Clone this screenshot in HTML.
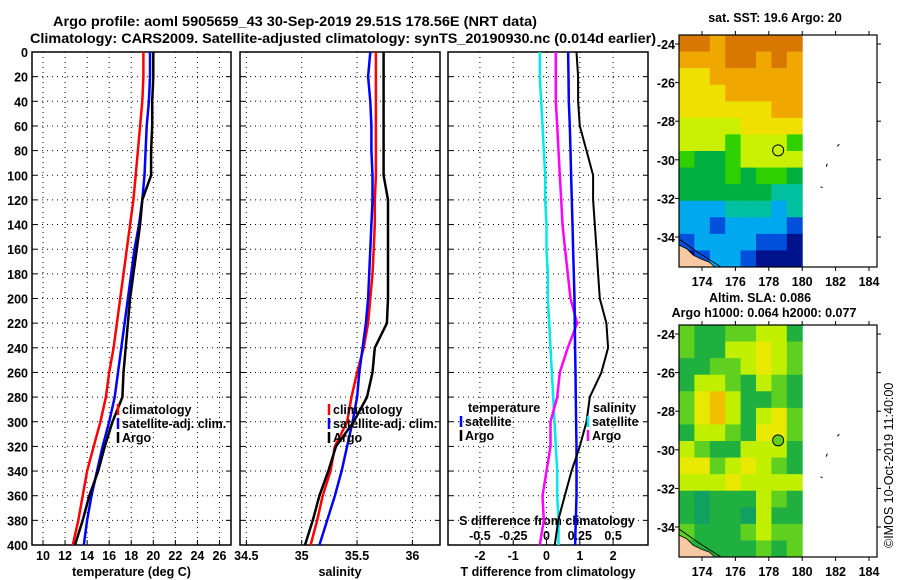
<!DOCTYPE html>
<html><head><meta charset="utf-8"><style>
html,body{margin:0;padding:0;background:#fff;}
svg{display:block;font-family:"Liberation Sans",sans-serif;font-weight:bold;}
</style></head><body>
<svg id="fig" width="900" height="580" viewBox="0 0 900 580" xmlns="http://www.w3.org/2000/svg">
<text x="53" y="26" font-size="13.5" textLength="484" lengthAdjust="spacingAndGlyphs">Argo profile: aoml 5905659_43 30-Sep-2019 29.51S 178.56E (NRT data)</text>
<text x="30" y="43" font-size="13.5" textLength="626" lengthAdjust="spacingAndGlyphs">Climatology: CARS2009. Satellite-adjusted climatology: synTS_20190930.nc (0.014d earlier)</text>
<text x="775" y="22" font-size="12.5" text-anchor="middle">sat. SST: 19.6 Argo: 20</text>
<text x="760" y="302" font-size="12.5" text-anchor="middle">Altim. SLA: 0.086</text>
<text x="764" y="317" font-size="12.5" text-anchor="middle">Argo h1000: 0.064 h2000: 0.077</text>
<text transform="translate(893,548) rotate(-90)" font-size="12.5" font-weight="normal">©IMOS 10-Oct-2019 11:40:00</text>
</svg>
<script>
// ---- data ----
const depths = [0,20,40,60,80,100,120,140,160,180,200,220,240,260,280,300,320,340,360,380,400];
const tempClim = [19.1,19.1,19.0,18.8,18.6,18.4,18.2,17.9,17.6,17.3,17.0,16.7,16.4,16.0,15.7,15.2,14.6,14.0,13.6,13.2,12.7];
const tempSat  = [19.7,19.7,19.6,19.4,19.3,19.2,19.0,18.7,18.3,18.0,17.7,17.4,17.1,16.8,16.5,16.0,15.4,14.9,14.4,14.0,13.7];
const tempArgo = [20.0,20.0,19.9,19.9,19.8,19.8,19.0,18.8,18.5,18.2,17.9,17.7,17.5,17.3,17.2,16.3,15.6,15.0,14.2,13.6,12.9];
const salClim = [35.67,35.67,35.67,35.67,35.67,35.67,35.66,35.66,35.65,35.64,35.62,35.60,35.56,35.50,35.45,35.41,35.30,35.26,35.19,35.14,35.08];
const salSat  = [35.62,35.60,35.62,35.63,35.63,35.64,35.64,35.63,35.62,35.61,35.60,35.58,35.55,35.52,35.50,35.46,35.41,35.36,35.30,35.23,35.16];
const salArgo = [35.74,35.74,35.74,35.74,35.74,35.74,35.78,35.78,35.78,35.78,35.78,35.77,35.66,35.64,35.59,35.47,35.31,35.24,35.16,35.10,35.03];
const tDiffSat  = [0.65,0.66,0.67,0.70,0.72,0.74,0.76,0.78,0.80,0.82,0.84,0.85,0.86,0.87,0.88,0.89,0.90,0.90,0.90,0.88,0.86];
const tDiffArgo = [0.9,0.95,0.95,1.0,1.2,1.4,1.4,1.45,1.5,1.55,1.6,1.8,1.85,1.65,1.3,1.2,1.0,0.75,0.55,0.35,0.25];
const sDiffSat  = [-0.05,-0.05,-0.04,-0.03,-0.02,-0.01,-0.01,0,0,0.01,0.01,0.02,0.03,0.04,0.05,0.06,0.07,0.08,0.08,0.09,0.09];
const sDiffArgo = [0.07,0.07,0.07,0.08,0.09,0.10,0.11,0.12,0.14,0.16,0.18,0.23,0.16,0.10,0.08,0.03,0.03,0.0,-0.03,-0.02,-0.05];
const depthTicks = [0,20,40,60,80,100,120,140,160,180,200,220,240,260,280,300,320,340,360,380,400];
const tempTicks = [10,12,14,16,18,20,22,24,26];
const salTicks = [34.5,35,35.5,36];
const salTickLabels = ['34.5','35','35.5','36'];
const tdTicks = [-2,-1,0,1,2];
const sdTicks = [-0.5,-0.25,0,0.25,0.5];
const sdTickLabels = ['-0.5','-0.25','0','0.25','0.5'];
const lonTicks = [174,176,178,180,182,184];
const latTicks = [-24,-26,-28,-30,-32,-34];
const sstGrid = [
[9,9,8,9,9,9,9,9],[8,8,8,9,9,8,9,8],[7,7,8,8,8,8,8,8],[7,7,7,8,8,8,8,8],
[7,7,7,7,7,7,8,8],[6,6,6,6,7,7,7,7],[6,6,6,5,6,6,6,5],[5,4,4,5,6,6,6,6],
[4,4,4,5,4,5,5,4],[4,4,4,4,4,4,3,3],[2,2,2,3,3,3,2,3],[2,2,1,2,2,2,2,1],
[1,2,2,2,2,1,1,0],[0,1,2,2,1,0,0,0]];
const slaGrid = [
[2,1,1,2,2,3,3,1],[2,1,1,3,3,4,3,2],[1,1,2,2,3,4,3,2],[1,3,3,2,1,3,2,1],
[2,4,5,3,1,1,2,1],[2,4,5,3,1,3,4,2],[1,3,3,2,1,4,4,2],[3,2,1,1,3,3,3,1],
[4,4,2,3,4,3,2,1],[3,3,3,4,3,3,3,3],[1,0,1,1,1,3,2,1],[1,0,1,1,0,3,1,1],
[2,1,1,1,2,3,2,2],[1,1,1,1,1,2,1,2]];
const argoLon = 178.56, argoLat = -29.51;

// ---- helpers ----
const NS='http://www.w3.org/2000/svg';
const svg=document.getElementById('fig');
function mk(tag,attrs,parent){const e=document.createElementNS(NS,tag);for(const k in attrs)e.setAttribute(k,attrs[k]);(parent||svg).appendChild(e);return e;}
const Y0=52,Y1=545;
const yD=d=>Y0+(d/400)*(Y1-Y0);

function panel(name,x0,x1,xs,ticks,labels,xlabel){
  const g=mk('g',{});
  
  
  mk('rect',{x:x0,y:Y0,width:x1-x0,height:Y1-Y0,fill:'#fff',stroke:'#000','stroke-width':1.5},g);
  depthTicks.forEach(d=>{const y=yD(d);
    if(d>0&&d<400){const l=mk('line',{x1:x0,x2:x1,y1:y,y2:y,stroke:'#000','stroke-width':1,'stroke-dasharray':'1 4'},g);
      }
    mk('line',{x1:x0,x2:x0+5,y1:y,y2:y,stroke:'#000'},g);mk('line',{x1:x1-5,x2:x1,y1:y,y2:y,stroke:'#000'},g);});
  ticks.forEach((t,i)=>{const x=xs(t);
    const l=mk('line',{x1:x,x2:x,y1:Y0,y2:Y1,stroke:'#000','stroke-width':1,'stroke-dasharray':'1 4'},g);
    
    mk('line',{x1:x,x2:x,y1:Y1-5,y2:Y1,stroke:'#000'},g);
    const tx=mk('text',{x:x,y:560,'font-size':12.5,'text-anchor':'middle'},g);tx.textContent=labels?labels[i]:String(t);
    });
  const xl=mk('text',{x:(x0+x1)/2,y:576,'font-size':12.5,'text-anchor':'middle'},g);xl.textContent=xlabel;
  
  return g;
}
function line(g,name,vals,xs,color,w){
  const pts=vals.map((v,i)=>xs(v).toFixed(1)+','+yD(depths[i]).toFixed(1)).join(' ');
  const p=mk('polyline',{points:pts,fill:'none',stroke:color,'stroke-width':w||2.5,'stroke-linejoin':'round'},g);
  
}
function legend(g,x,y,color,label,name){
  const gg=mk('g',{},g);
  
  if(color)mk('line',{x1:x,x2:x,y1:y-10,y2:y+1,stroke:color,'stroke-width':2.5},gg);
  const t=mk('text',{x:x+(color?4:0),y:y,'font-size':12.5},gg);t.textContent=label;
}

// depth labels
depthTicks.forEach(d=>{const t=mk('text',{x:28,y:yD(d)+5,'font-size':12.5,'text-anchor':'end'});t.textContent=d;
  });

// panel 1 temperature
const xT=t=>43+(t-10)*11.03;
const p1=panel('temperature-panel',32,231,xT,tempTicks,null,'temperature (deg C)');
line(p1,'temperature-climatology-line',tempClim,xT,'#ff0000');
line(p1,'temperature-satellite-line',tempSat,xT,'#0000ff');
line(p1,'temperature-argo-line',tempArgo,xT,'#000000');
legend(p1,118,414,'#ff0000','climatology','legend-climatology');
legend(p1,118,428,'#0000ff','satellite-adj. clim.','legend-satellite-adj');
legend(p1,118,442,'#000000','Argo','legend-argo');

// panel 2 salinity
const xS=s=>301.7+(s-35)*110.7;
const p2=panel('salinity-panel',240,440,xS,salTicks,salTickLabels,'salinity');
line(p2,'salinity-climatology-line',salClim,xS,'#ff0000');
line(p2,'salinity-satellite-line',salSat,xS,'#0000ff');
line(p2,'salinity-argo-line',salArgo,xS,'#000000');
legend(p2,329,414,'#ff0000','climatology','legend-climatology-sal');
legend(p2,329,428,'#0000ff','satellite-adj. clim.','legend-satellite-adj-sal');
legend(p2,329,442,'#000000','Argo','legend-argo-sal');

// panel 3 differences
const xTD=d=>546.5+d*33.3;
const xSD=d=>546.5+d*133.2;
const p3=panel('difference-panel',448,648,xTD,tdTicks,null,'T difference from climatology');
sdTicks.forEach((t,i)=>{const tx=mk('text',{x:xSD(t),y:540,'font-size':12.5,'text-anchor':'middle'},p3);tx.textContent=sdTickLabels[i];
  });
const sdt=mk('text',{x:547,y:525,'font-size':12.5,'text-anchor':'middle'},p3);sdt.textContent='S difference from climatology';

line(p3,'s-diff-satellite-line',sDiffSat,xSD,'#00e8e8');
line(p3,'s-diff-argo-line',sDiffArgo,xSD,'#ff00ff');
line(p3,'t-diff-satellite-line',tDiffSat,xTD,'#0000ff');
line(p3,'t-diff-argo-line',tDiffArgo,xTD,'#000000',2);
legend(p3,468,412,null,'temperature','legend-temperature-header');
legend(p3,461,426,'#0000ff','satellite','legend-t-satellite');
legend(p3,461,440,'#000000','Argo','legend-t-argo');
legend(p3,593,412,null,'salinity','legend-salinity-header');
legend(p3,588,426,'#00e8e8','satellite','legend-s-satellite');
legend(p3,588,440,'#ff00ff','Argo','legend-s-argo');

// ---- maps ----
const sstColors=['#00128c','#0050dc','#00a8f0','#00c0a0','#00b040','#30d000','#c8f000','#f0e000','#f0a800','#d87800'];
const slaColors=['#10a060','#20b040','#60d020','#c0f000','#e8e800','#f0c000'];
function map(name,top,grid,colors,label){
  const X0=679,X1=877,Yt=top,Yb=top+232;
  const lonX=l=>702+(l-174)*16.7;
  const latY=l=>Yt+9+(-24-l)*19.3;
  const g=mk('g',{});
  
  mk('rect',{x:X0,y:Yt,width:X1-X0,height:Yb-Yt,fill:'#fff'},g);
  const dX1=lonX(180);const rows=grid.length,cols=grid[0].length;
  const cw=(dX1-X0)/cols,ch=(Yb-Yt)/rows;
  grid.forEach((row,r)=>row.forEach((v,c)=>{
    const cell=mk('rect',{x:X0+c*cw,y:Yt+r*ch,width:cw+0.5,height:ch+0.5,fill:colors[v]},g);
    }));
  const land=mk('path',{d:`M${X0},${Yb-22} L${X0+8},${Yb-18} L${X0+14},${Yb-12} L${X0+22},${Yb-8} L${X0+30},${Yb-5} L${X0+36},${Yb} L${X0},${Yb} Z`,fill:'#f8c8a0',stroke:'#000','stroke-width':0.8},g);
  
  mk('path',{d:`M${X0},${Yb-28} L${X0+20},${Yb-14} L${X0+42},${Yb}`,fill:'none',stroke:'#000','stroke-width':0.8},g);
  mk('path',{d:`M${lonX(182.1)},${latY(-29.3)} l2,-2 M${lonX(181.5)},${latY(-30.2)} l-1,3 M${lonX(181.1)},${latY(-31.4)} l2,1`,stroke:'#000','stroke-width':1,fill:'none'},g);
  mk('rect',{x:X0,y:Yt,width:X1-X0,height:Yb-Yt,fill:'none',stroke:'#000','stroke-width':1.2},g);
  lonTicks.forEach(l=>{const x=lonX(l);mk('line',{x1:x,x2:x,y1:Yt-4,y2:Yt,stroke:'#000'},g);mk('line',{x1:x,x2:x,y1:Yb,y2:Yb+4,stroke:'#000'},g);
    const t=mk('text',{x:x,y:Yb+19,'font-size':12.5,'text-anchor':'middle'},g);t.textContent=l;
    });
  latTicks.forEach(l=>{const y=latY(l);mk('line',{x1:X0-4,x2:X0,y1:y,y2:y,stroke:'#000'},g);mk('line',{x1:X1,x2:X1+4,y1:y,y2:y,stroke:'#000'},g);
    const t=mk('text',{x:675,y:y+5,'font-size':12.5,'text-anchor':'end'},g);t.textContent=l;
    });
  const c=mk('circle',{cx:lonX(argoLon),cy:latY(argoLat),r:5.5,fill:colors[label],stroke:'#000','stroke-width':1},g);
  
}
map('sst-map',35,sstGrid,sstColors,6);
map('sla-map',325,slaGrid,slaColors,2);
</script>
</body></html>
